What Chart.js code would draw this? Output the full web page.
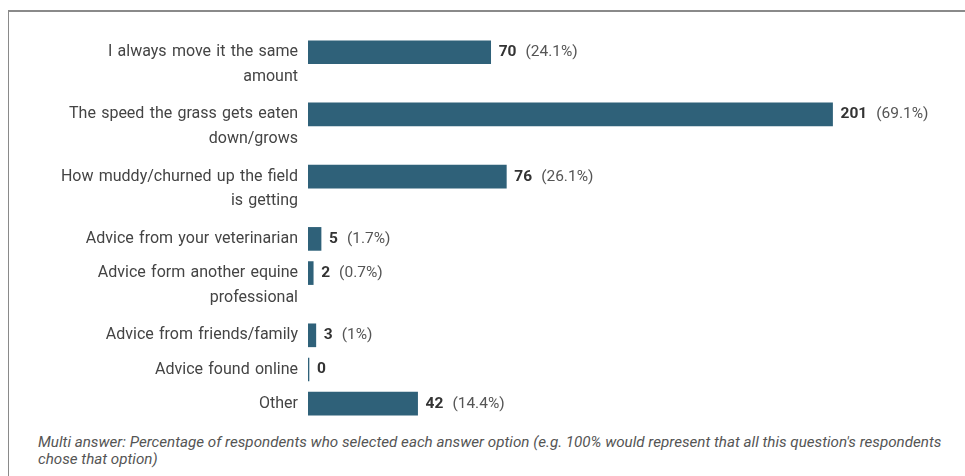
<!DOCTYPE html>
<html>
<head>
<meta charset="utf-8">
<script src="https://cdn.jsdelivr.net/npm/chart.js@4"></script>
<style>
    body { margin: 0; background: #fff; }
    #wrap { position: relative; width: 965px; height: 476px; overflow: hidden; }
    #frame { position: absolute; left: 8px; top: 10px; right: -10px; bottom: -10px;
             border-left: 1px solid #8a8a8a; border-top: 2px solid #8a8a8a; }
    #box { position: absolute; left: 0; top: 0; width: 965px; height: 430px; }
    #note { position: absolute; left: 38px; top: 434px; width: 918px;
            font: italic 15.2px Roboto, sans-serif; color: #555; line-height: 17px; }
</style>
</head>
<body>
<div id="wrap">
    <div id="frame"></div>
    <div id="box"><canvas id="repartition"></canvas></div>
    <div id="note">Multi answer: Percentage of respondents who selected each answer option (e.g. 100% would represent that all this question's respondents chose that option)</div>
</div>
<script>
const reponses = [
    ['I always move it the same', 'amount'],
    ['The speed the grass gets eaten', 'down/grows'],
    ['How muddy/churned up the field', 'is getting'],
    ['Advice from your veterinarian'],
    ['Advice form another equine', 'professional'],
    ['Advice from friends/family'],
    ['Advice found online'],
    ['Other']
];
const nombres = [70, 201, 76, 5, 2, 3, 0, 42];
const pourcentages = ['24.1%', '69.1%', '26.1%', '1.7%', '0.7%', '1%', '', '14.4%'];

// each row takes as many lines as its label, plus a small gap
const ecart = 0.22;
let rangs = [];
let cumul = 0;
for (let i = 0; i < reponses.length; i++) {
    rangs.push(cumul);
    cumul += reponses[i].length + ecart;
}

const points = nombres.map((n, i) => ({ x: n, y: rangs[i] }));

const etiquettes = {
    id: 'etiquettes',
    afterDatasetsDraw(chart) {
        const ctx = chart.ctx;
        const meta = chart.getDatasetMeta(0);
        const yScale = chart.scales.y;
        const xScale = chart.scales.x;
        ctx.save();
        ctx.textBaseline = 'middle';
        reponses.forEach((lignes, i) => {
            const y = yScale.getPixelForValue(rangs[i]);
            ctx.font = '16px Roboto';
            ctx.fillStyle = '#444';
            ctx.textAlign = 'right';
            ctx.wordSpacing = '1.3px';
            lignes.forEach((l, k) => {
                ctx.fillText(l, xScale.left - 10, y + k * 24.5);
            });
            ctx.wordSpacing = '0px';

            const bar = meta.data[i];
            let x = Math.max(bar.x, xScale.left + 1) + 8;
            ctx.textAlign = 'left';
            ctx.font = 'bold 15.5px Roboto';
            ctx.fillStyle = '#333';
            const txt = String(nombres[i]);
            ctx.fillText(txt, x, y);
            if (pourcentages[i]) {
                x += ctx.measureText(txt).width + 9;
                ctx.font = '15.5px Roboto';
                ctx.fillStyle = '#555';
                ctx.fillText('(' + pourcentages[i] + ')', x, y);
            }
        });
        ctx.restore();
    }
};

const ctx = document.getElementById('repartition').getContext('2d');
new Chart(ctx, {
    type: 'bar',
    data: {
        datasets: [{
            data: points,
            backgroundColor: '#2f6179',
            borderWidth: 0,
            barThickness: 23,
            minBarLength: 1
        }]
    },
    options: {
        indexAxis: 'y',
        responsive: true,
        maintainAspectRatio: false,
        animation: false,
        layout: { padding: { left: 308, right: 15, top: 27, bottom: 5 } },
        scales: {
            x: { type: 'linear', min: 0, max: 246, display: false },
            y: { type: 'linear', min: -0.9, max: 13.3, reverse: true, offset: false, display: false }
        },
        plugins: {
            legend: { display: false },
            tooltip: { enabled: false }
        }
    },
    plugins: [etiquettes]
});
</script>
</body>
</html>
